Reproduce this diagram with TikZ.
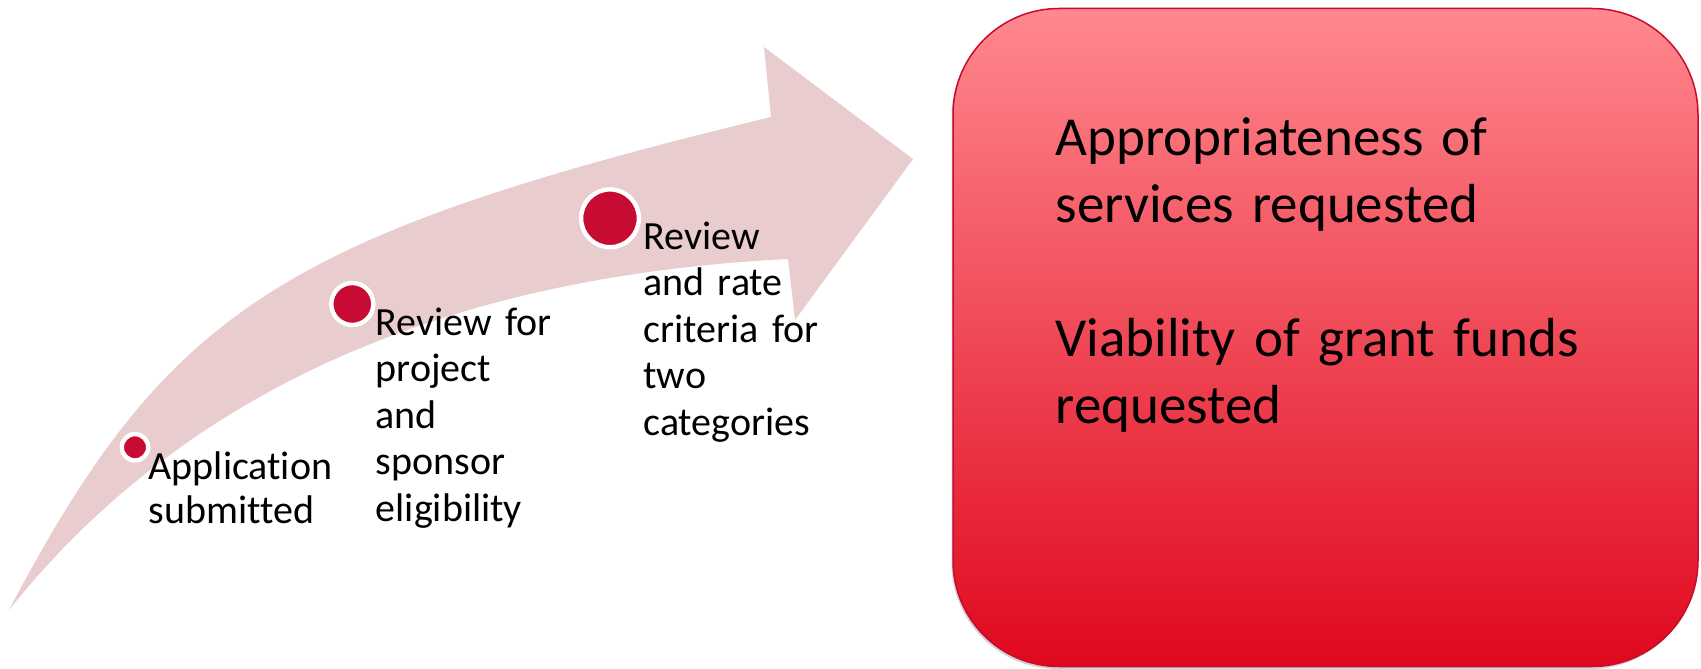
\documentclass[tikz,border=0pt]{standalone}
\usepackage{fontspec}
\setmainfont{Carlito}[Ligatures=CommonOff]
\definecolor{arrowpink}{RGB}{233,204,205}
\definecolor{dotred}{RGB}{199,11,50}
\definecolor{boxtop}{RGB}{255,136,142}
\definecolor{boxbot}{RGB}{224,8,30}
\definecolor{boxline}{RGB}{200,10,45}
\newcommand{\mysetfont}[2]{\fontsize{#1}{#2}\selectfont\spaceskip=0.226em\relax}
\begin{document}
\begin{tikzpicture}[x=1pt,y=-1pt,
  dot/.style={circle,fill=dotred,draw=white,line width=4.4pt,inner sep=0pt},
  steplabel/.style={anchor=base west,inner sep=0pt,text width=230pt,align=left},
  boxlabel/.style={anchor=base west,inner sep=0pt,text width=620pt,align=left,
    font=\mysetfont{55}{67}},
  boxshape/.style={rectangle,rounded corners=106pt,minimum width=745pt,minimum height=658pt,inner sep=0pt},
  bigbox/.style={boxshape,draw=boxline,line width=1.5pt,top color=boxtop,bottom color=boxbot}]
\useasboundingbox (0,0) rectangle (1701,669);
% curved arrow
\fill[arrowpink] (9,610) .. controls (167.5,309.2) and (281.8,235.8) .. (771,117)
  -- (764,47) -- (913,159) -- (795,320) -- (788,259)
  .. controls (441.6,276.4) and (181.9,393.3) .. (9,610) -- cycle;
% dots
\node[dot,minimum size=26.4pt] (d1) at (135,447.3) {};
\node[dot,minimum size=42pt] (d2) at (352.3,304) {};
\node[dot,minimum size=57.8pt] (d3) at (610,218.3) {};
% step labels
\node[steplabel,font=\mysetfont{40}{44}] (t1) at (148.5,479.3) {Application\\submitted};
\node[steplabel,font=\mysetfont{40}{46.5}] (t2) at (375.6,335) {Review for\\project\\and\\sponsor\\eligibility};
\node[steplabel,font=\mysetfont{40}{46.5}] (t3) at (643.3,249.3) {Review\\and rate\\criteria for\\two\\categories};
% box with faint shadow
\node[boxshape,fill=black,opacity=0.18] (boxshadow) at (1324,340) {};
\node[bigbox] (box) at (1325.5,337.5) {};
\node[boxlabel] (bt) at (1055.5,155.7) {Appropriateness of\\services requested\\[67pt]Viability of grant funds\\requested};
\end{tikzpicture}
\end{document}
